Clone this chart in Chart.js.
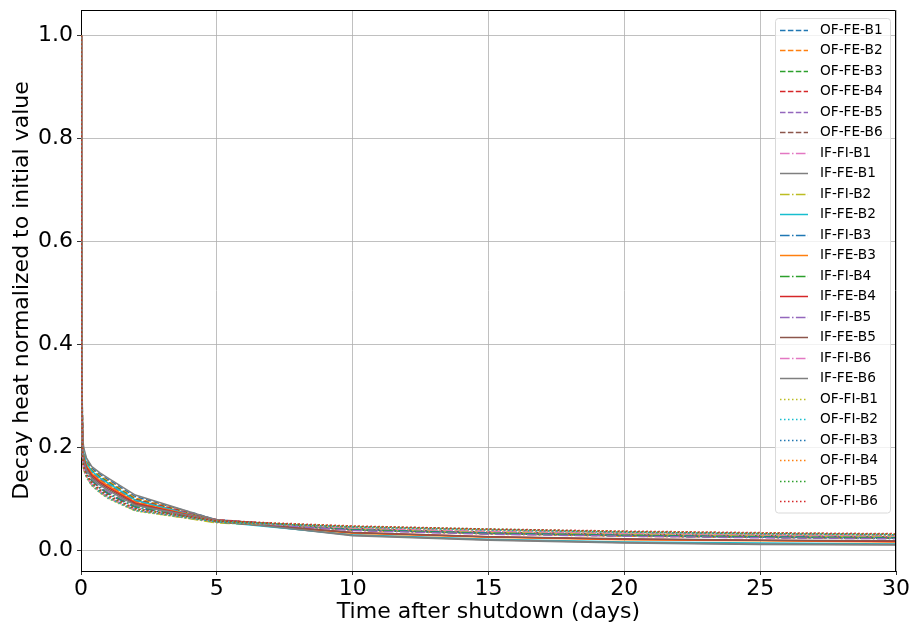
<!DOCTYPE html>
<html>
<head>
<meta charset="utf-8">
<script src="https://cdn.jsdelivr.net/npm/chart.js@4.4.1/dist/chart.umd.min.js"></script>
<style>
  html, body { margin: 0; padding: 0; background: #fff; }
</style>
</head>
<body>
<canvas id="decayChart" width="912" height="628"></canvas>
<script>
// time after shutdown, days
var days = [0, 0.02, 0.06, 0.1, 0.2, 0.4, 0.7, 1, 2, 5, 10, 15, 20, 25, 30];

// OF-FE (dashed)
var ofFeB1 = [1, 0.42, 0.215, 0.196, 0.177, 0.160, 0.148, 0.138, 0.105, 0.060, 0.041, 0.034, 0.029, 0.026, 0.024];
var ofFeB2 = [1, 0.41, 0.211, 0.192, 0.173, 0.157, 0.145, 0.135, 0.102, 0.059, 0.040, 0.033, 0.028, 0.026, 0.024];
var ofFeB3 = [1, 0.41, 0.209, 0.190, 0.171, 0.155, 0.143, 0.133, 0.100, 0.059, 0.041, 0.034, 0.030, 0.027, 0.025];
var ofFeB4 = [1, 0.40, 0.207, 0.188, 0.169, 0.153, 0.141, 0.131, 0.099, 0.060, 0.042, 0.035, 0.031, 0.028, 0.026];
var ofFeB5 = [1, 0.40, 0.205, 0.186, 0.167, 0.151, 0.139, 0.129, 0.097, 0.059, 0.042, 0.035, 0.031, 0.028, 0.027];
var ofFeB6 = [1, 0.39, 0.203, 0.184, 0.165, 0.149, 0.137, 0.127, 0.095, 0.059, 0.043, 0.036, 0.032, 0.029, 0.027];

// IF-FI (dash-dot)
var ifFiB1 = [1, 0.36, 0.178, 0.160, 0.145, 0.129, 0.115, 0.104, 0.079, 0.055, 0.043, 0.037, 0.033, 0.030, 0.028];
var ifFiB2 = [1, 0.36, 0.176, 0.158, 0.143, 0.127, 0.113, 0.102, 0.078, 0.054, 0.042, 0.036, 0.032, 0.029, 0.027];
var ifFiB3 = [1, 0.37, 0.184, 0.166, 0.151, 0.135, 0.121, 0.110, 0.084, 0.056, 0.041, 0.034, 0.030, 0.027, 0.025];
var ifFiB4 = [1, 0.37, 0.186, 0.168, 0.153, 0.137, 0.123, 0.112, 0.086, 0.057, 0.040, 0.033, 0.029, 0.026, 0.024];
var ifFiB5 = [1, 0.38, 0.188, 0.170, 0.155, 0.139, 0.125, 0.114, 0.088, 0.057, 0.039, 0.032, 0.028, 0.025, 0.023];
var ifFiB6 = [1, 0.36, 0.177, 0.159, 0.144, 0.128, 0.114, 0.103, 0.079, 0.056, 0.044, 0.038, 0.034, 0.031, 0.029];

// IF-FE (solid)
var ifFeB1 = [1, 0.43, 0.220, 0.200, 0.180, 0.163, 0.151, 0.141, 0.108, 0.059, 0.029, 0.020, 0.015, 0.012, 0.011];
var ifFeB2 = [1, 0.40, 0.207, 0.188, 0.170, 0.154, 0.141, 0.131, 0.098, 0.056, 0.031, 0.022, 0.017, 0.015, 0.013];
var ifFeB3 = [1, 0.39, 0.201, 0.182, 0.165, 0.149, 0.136, 0.126, 0.094, 0.057, 0.034, 0.026, 0.021, 0.019, 0.017];
var ifFeB4 = [1, 0.39, 0.199, 0.180, 0.162, 0.146, 0.133, 0.123, 0.092, 0.057, 0.035, 0.027, 0.022, 0.020, 0.018];
var ifFeB5 = [1, 0.38, 0.196, 0.177, 0.159, 0.143, 0.130, 0.120, 0.090, 0.056, 0.035, 0.027, 0.023, 0.020, 0.019];
var ifFeB6 = [1, 0.38, 0.194, 0.175, 0.157, 0.140, 0.127, 0.117, 0.088, 0.058, 0.030, 0.021, 0.016, 0.013, 0.012];

// OF-FI (dotted)
var ofFiB1 = [1, 0.35, 0.175, 0.157, 0.142, 0.126, 0.112, 0.101, 0.077, 0.055, 0.045, 0.040, 0.035, 0.032, 0.030];
var ofFiB2 = [1, 0.35, 0.176, 0.158, 0.143, 0.127, 0.113, 0.102, 0.078, 0.056, 0.046, 0.040, 0.036, 0.033, 0.031];
var ofFiB3 = [1, 0.36, 0.178, 0.160, 0.145, 0.129, 0.115, 0.104, 0.079, 0.056, 0.046, 0.041, 0.036, 0.033, 0.031];
var ofFiB4 = [1, 0.36, 0.179, 0.161, 0.146, 0.130, 0.116, 0.105, 0.080, 0.057, 0.047, 0.041, 0.037, 0.034, 0.032];
var ofFiB5 = [1, 0.36, 0.180, 0.162, 0.147, 0.131, 0.117, 0.106, 0.081, 0.057, 0.047, 0.042, 0.037, 0.034, 0.032];
var ofFiB6 = [1, 0.37, 0.182, 0.164, 0.149, 0.133, 0.119, 0.108, 0.082, 0.058, 0.048, 0.042, 0.038, 0.035, 0.033];

var seriesNames = [
    "OF-FE-B1", "OF-FE-B2", "OF-FE-B3", "OF-FE-B4", "OF-FE-B5", "OF-FE-B6",
    "IF-FI-B1", "IF-FE-B1", "IF-FI-B2", "IF-FE-B2", "IF-FI-B3", "IF-FE-B3",
    "IF-FI-B4", "IF-FE-B4", "IF-FI-B5", "IF-FE-B5", "IF-FI-B6", "IF-FE-B6",
    "OF-FI-B1", "OF-FI-B2", "OF-FI-B3", "OF-FI-B4", "OF-FI-B5", "OF-FI-B6"
];
var seriesValues = [
    ofFeB1, ofFeB2, ofFeB3, ofFeB4, ofFeB5, ofFeB6,
    ifFiB1, ifFeB1, ifFiB2, ifFeB2, ifFiB3, ifFeB3,
    ifFiB4, ifFeB4, ifFiB5, ifFeB5, ifFiB6, ifFeB6,
    ofFiB1, ofFiB2, ofFiB3, ofFiB4, ofFiB5, ofFiB6
];

var tab10 = ["#1f77b4", "#ff7f0e", "#2ca02c", "#d62728", "#9467bd",
             "#8c564b", "#e377c2", "#7f7f7f", "#bcbd22", "#17becf"];
var dashStyles = {
    dashed: [5.5, 2.4],
    dashdot: [9.6, 2.4, 1.5, 2.4],
    dotted: [1.5, 2.5],
    solid: []
};

function styleFor(name) {
    if (name.indexOf("OF-FE") === 0) return "dashed";
    if (name.indexOf("IF-FI") === 0) return "dashdot";
    if (name.indexOf("IF-FE") === 0) return "solid";
    return "dotted";
}

var datasets = seriesNames.map(function (name, i) {
    return {
        label: name,
        data: days.map(function (d, j) { return { x: d, y: seriesValues[i][j] }; }),
        borderColor: tab10[i % 10],
        backgroundColor: tab10[i % 10],
        borderWidth: 1.5,
        borderDash: dashStyles[styleFor(name)],
        pointRadius: 0,
        tension: 0,
        fill: false,
        order: seriesNames.length - i
    };
});

var font = "'DejaVu Sans', sans-serif";

// legend drawn inside the axes, matplotlib style, plus top/right spines
var insideLegend = {
    id: "insideLegend",
    afterDraw: function (chart) {
        var ctx = chart.ctx;
        var a = chart.chartArea;
        ctx.save();
        ctx.strokeStyle = "#000";
        ctx.lineWidth = 1;
        ctx.beginPath();
        ctx.moveTo(a.left, a.top + 0.5);
        ctx.lineTo(a.right - 0.5, a.top + 0.5);
        ctx.lineTo(a.right - 0.5, a.bottom);
        ctx.stroke();

        var rowH = 20.5;
        var x0 = a.right - 121, y0 = a.top + 8, w = 115;
        var h = rowH * (seriesNames.length - 1) + 23;
        ctx.beginPath();
        ctx.roundRect(x0 + 0.5, y0 + 0.5, w, h, 3);
        ctx.fillStyle = "rgba(255,255,255,0.8)";
        ctx.fill();
        ctx.strokeStyle = "#d9d9d9";
        ctx.lineWidth = 1;
        ctx.stroke();

        ctx.font = "13.7px " + font;
        ctx.textBaseline = "middle";
        ctx.textAlign = "left";
        chart.data.datasets.forEach(function (ds, i) {
            var y = Math.round(y0 + 11.5 + i * rowH) + 0.5;
            ctx.beginPath();
            ctx.setLineDash(ds.borderDash);
            ctx.strokeStyle = ds.borderColor;
            ctx.lineWidth = 1.5;
            ctx.moveTo(x0 + 5, y);
            ctx.lineTo(x0 + 33, y);
            ctx.stroke();
            ctx.setLineDash([]);
            ctx.fillStyle = "#000";
            ctx.fillText(ds.label, x0 + 45, y);
        });
        ctx.restore();
    }
};

new Chart("decayChart", {
    type: "line",
    data: { datasets: datasets },
    options: {
        responsive: false,
        animation: false,
        layout: { padding: { left: 0, right: 16, top: 10, bottom: 0 } },
        plugins: {
            legend: { display: false },
            tooltip: { enabled: false }
        },
        scales: {
            x: {
                type: "linear",
                min: 0,
                max: 30,
                afterFit: function (scale) { scale.height = 57; },
                ticks: {
                    stepSize: 5,
                    color: "#000",
                    padding: 1,
                    maxRotation: 0,
                    font: { family: font, size: 22 }
                },
                grid: { color: "#b0b0b0", lineWidth: 0.8, tickLength: 4, tickColor: "#000" },
                border: { color: "#000", width: 1 },
                title: {
                    display: true,
                    text: "Time after shutdown (days)",
                    color: "#000",
                    padding: { top: 0, bottom: 3 },
                    font: { family: font, size: 22, lineHeight: 1.2 }
                }
            },
            y: {
                type: "linear",
                min: -0.0395,
                max: 1.0495,
                afterFit: function (scale) {
                    scale.width = 81;
                    scale.paddingTop = 0;
                    scale.paddingBottom = 0;
                },
                ticks: {
                    stepSize: 0.2,
                    includeBounds: false,
                    color: "#000",
                    padding: 4,
                    font: { family: font, size: 22 },
                    callback: function (v) { return Number(v).toFixed(1); }
                },
                grid: { color: "#b0b0b0", lineWidth: 0.8, tickLength: 4, tickColor: "#000" },
                border: { color: "#000", width: 1 },
                title: {
                    display: true,
                    text: "Decay heat normalized to initial value",
                    color: "#000",
                    padding: { top: 9, bottom: 0 },
                    font: { family: font, size: 22, lineHeight: 1.2 }
                }
            }
        }
    },
    plugins: [insideLegend]
});
</script>
</body>
</html>
